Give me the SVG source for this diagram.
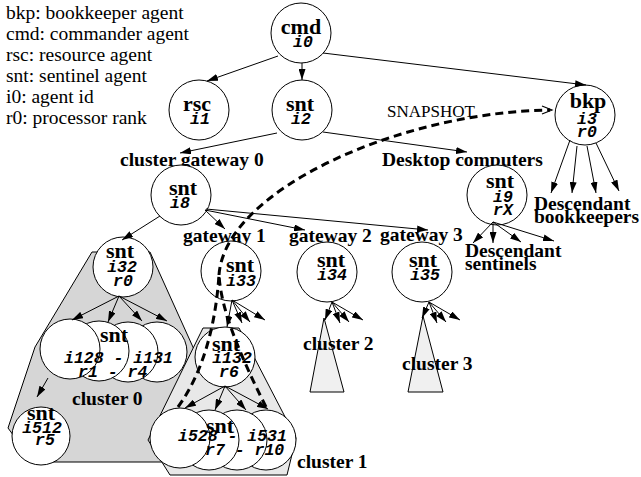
<svg xmlns="http://www.w3.org/2000/svg" width="641" height="477" viewBox="0 0 641 477">
<defs>
<style>
.nd{fill:#fff;stroke:#000;stroke-width:1}
.nm{font-family:"Liberation Serif","Times New Roman",serif;font-weight:bold;font-size:22px;text-anchor:middle}
.id{font-family:"Liberation Mono","Courier New",monospace;font-weight:bold;font-style:italic;font-size:16.5px;text-anchor:middle}
.ids{font-family:"Liberation Mono","Courier New",monospace;font-weight:bold;font-style:italic;font-size:16.5px}
.lg{font-family:"Liberation Serif","Times New Roman",serif;font-size:19.5px}
.lb{font-family:"Liberation Serif","Times New Roman",serif;font-weight:bold;font-size:19.5px}
.sn{font-family:"Liberation Serif","Times New Roman",serif;font-size:17px}
.cn{stroke:#000;stroke-width:1;fill:none;marker-end:url(#ah)}
.snap{stroke:#000;stroke-width:3;fill:none;stroke-dasharray:8 5}
.cl{stroke:#000;stroke-width:1}
</style>
<marker id="ah" viewBox="0 0 11 7" refX="11" refY="3.5" markerWidth="11" markerHeight="7" markerUnits="userSpaceOnUse" orient="auto"><path d="M0,0 L11,3.5 L0,7 z" fill="#000"/></marker>
<marker id="oh" viewBox="0 0 10 8" refX="10" refY="4" markerWidth="10" markerHeight="8" markerUnits="userSpaceOnUse" orient="auto"><path d="M0,0 L10,4 L0,8" fill="none" stroke="#000" stroke-width="1.2"/></marker>
</defs>

<!-- legend -->
<g id="legend">
<text class="lg" x="6" y="19">bkp: bookkeeper agent</text>
<text class="lg" x="6" y="40">cmd: commander agent</text>
<text class="lg" x="6" y="61">rsc: resource agent</text>
<text class="lg" x="6" y="82">snt: sentinel agent</text>
<text class="lg" x="6" y="103">i0: agent id</text>
<text class="lg" x="6" y="124">r0: processor rank</text>
</g>

<!-- cluster regions -->
<g id="clusters">
<polygon class="cl" fill="#d6d6d6" points="92,252 150,252 197,356 200,462 33,462 8,428 35,347"/>
<polygon class="cl" fill="#e8e8e8" points="203,328 239,328 296,438 287,475 170,475 148,440"/>
<polygon class="cl" fill="#f0f0f0" points="324,318 310,392 344,392"/>
<polygon class="cl" fill="#f0f0f0" points="423,316 408,392 443,392"/>
</g>

<!-- labels -->
<g id="labels">
<text class="lb" x="120" y="166">cluster gateway 0</text>
<text class="lb" x="382" y="166">Desktop computers</text>
<text class="lb" x="183" y="242">gateway 1</text>
<text class="lb" x="289" y="242">gateway 2</text>
<text class="lb" x="380" y="241">gateway 3</text>
<text class="lb" x="465" y="257">Descendant</text>
<text class="lb" x="465" y="270">sentinels</text>
<text class="lb" x="534" y="210">Descendant</text>
<text class="lb" x="534" y="223">bookkeepers</text>
<text class="lb" x="72" y="405">cluster 0</text>
<text class="lb" x="297" y="468">cluster 1</text>
<text class="lb" x="303" y="350">cluster 2</text>
<text class="lb" x="402" y="370">cluster 3</text>
<text class="sn" x="387" y="117">SNAPSHOT</text>
</g>

<!-- agents -->
<g id="cmd-i0"><circle class="nd" cx="301" cy="33" r="30"/><text class="nm" x="301" y="34">cmd</text><text class="id" x="303" y="47">i0</text></g>
<g id="rsc-i1"><circle class="nd" cx="199" cy="110" r="30"/><text class="nm" x="197" y="111">rsc</text><text class="id" x="200" y="124">i1</text></g>
<g id="snt-i2"><circle class="nd" cx="302" cy="110" r="30"/><text class="nm" x="300" y="111">snt</text><text class="id" x="301" y="124">i2</text></g>
<g id="bkp-i3"><circle class="nd" cx="585" cy="115" r="30"/><text class="nm" x="588" y="108">bkp</text><text class="id" x="587" y="124">i3</text><text class="id" x="587" y="137">r0</text></g>
<g id="snt-i8"><circle class="nd" cx="181" cy="195" r="30"/><text class="nm" x="183" y="195">snt</text><text class="id" x="180" y="208">i8</text></g>
<g id="snt-i9"><circle class="nd" cx="497" cy="195" r="30"/><text class="nm" x="500" y="188">snt</text><text class="id" x="503" y="202">i9</text><text class="id" x="503" y="215">rX</text></g>
<g id="snt-i32"><circle class="nd" cx="123" cy="267" r="30"/><text class="nm" x="120" y="258">snt</text><text class="id" x="122" y="272">i32</text><text class="id" x="123" y="286">r0</text></g>
<g id="snt-i33"><circle class="nd" cx="231" cy="271" r="30"/><text class="nm" x="240" y="272">snt</text><text class="id" x="241" y="286">i33</text></g>
<g id="snt-i34"><circle class="nd" cx="327" cy="272" r="30"/><text class="nm" x="331" y="267">snt</text><text class="id" x="332" y="280">i34</text></g>
<g id="snt-i35"><circle class="nd" cx="422" cy="272" r="30"/><text class="nm" x="423" y="267">snt</text><text class="id" x="425" y="280">i35</text></g>
<g id="snt-i128-i131">
<circle class="nd" cx="157" cy="352" r="30"/>
<circle class="nd" cx="128" cy="352" r="30"/>
<circle class="nd" cx="99" cy="351" r="30"/>
<circle class="nd" cx="70" cy="349" r="30"/>
<text class="nm" x="114" y="342">snt</text>
<text class="ids" x="64" y="363">i128 - i131</text>
<text class="ids" x="78" y="377">r1 - r4</text>
</g>
<g id="snt-i512"><circle class="nd" cx="41" cy="436" r="29"/><text class="nm" x="41" y="420">snt</text><text class="id" x="42" y="433">i512</text><text class="id" x="45" y="445">r5</text></g>
<g id="snt-i132"><circle class="nd" cx="225" cy="357" r="30"/><text class="nm" x="226" y="351">snt</text><text class="id" x="232" y="363">i132</text><text class="id" x="229" y="377">r6</text></g>
<g id="snt-i528-i531">
<circle class="nd" cx="266" cy="440" r="30"/>
<circle class="nd" cx="237" cy="440" r="30"/>
<circle class="nd" cx="209" cy="440" r="30"/>
<circle class="nd" cx="180" cy="438" r="30"/>
<text class="nm" x="220" y="433">snt</text>
<text class="ids" x="178" y="441">i528 - i531</text>
<text class="ids" x="205" y="455">r7 - r10</text>
</g>

<!-- connectors -->
<g id="connectors">
<path class="cn" d="M278,56 L207,81"/>
<path class="cn" d="M302,63 L302,80"/>
<path class="cn" d="M323,53 L586,85"/>
<path class="cn" d="M277,133 L180,153"/>
<path class="cn" d="M323,132 L467,152"/>
<path class="cn" d="M160,216 L122,240"/>
<path class="cn" d="M205,210 L225,229"/>
<path class="cn" d="M205,210 L305,230"/>
<path class="cn" d="M206,209 L428,230"/>
<path class="cn" d="M493,222 L473,243"/>
<path class="cn" d="M493,222 L493,243"/>
<path class="cn" d="M493,222 L521,242"/>
<path class="cn" d="M493,222 L554,241"/>
<path class="cn" d="M570,140 L551,193"/>
<path class="cn" d="M577,146 L572,193"/>
<path class="cn" d="M587,146 L596,193"/>
<path class="cn" d="M596,143 L619,191"/>
<path class="cn" d="M119,296 L72,320"/>
<path class="cn" d="M119,296 L108,322"/>
<path class="cn" d="M119,296 L142,321"/>
<path class="cn" d="M119,296 L167,321"/>
<path class="cn" d="M232,300 L227,327"/>
<path class="cn" d="M232,300 L242,323"/>
<path class="cn" d="M232,300 L250,322"/>
<path class="cn" d="M232,300 L265,320"/>
<path class="cn" d="M332,302 L325,320"/>
<path class="cn" d="M332,302 L340,323"/>
<path class="cn" d="M332,302 L349,322"/>
<path class="cn" d="M332,302 L363,320"/>
<path class="cn" d="M429,302 L422,318"/>
<path class="cn" d="M429,302 L437,323"/>
<path class="cn" d="M429,302 L446,322"/>
<path class="cn" d="M429,302 L460,320"/>
<path class="cn" d="M48,378 L37,397"/>
<path class="cn" d="M225,386 L185,408"/>
<path class="cn" d="M225,386 L215,410"/>
<path class="cn" d="M225,386 L246,410"/>
<path class="cn" d="M225,386 L268,409"/>
<!-- snapshot flow to the bookkeeper -->
<path class="snap" d="M178,407 C205,370 216,320 219,275"/>
<path class="snap" d="M266,407 C240,355 221,310 219,275"/>
<path class="snap" d="M219,275 C225,190 400,112 550,110"/>
<path d="M542,106 L552,110 L542,114" fill="none" stroke="#000" stroke-width="1.2"/>
</g>
</svg>
